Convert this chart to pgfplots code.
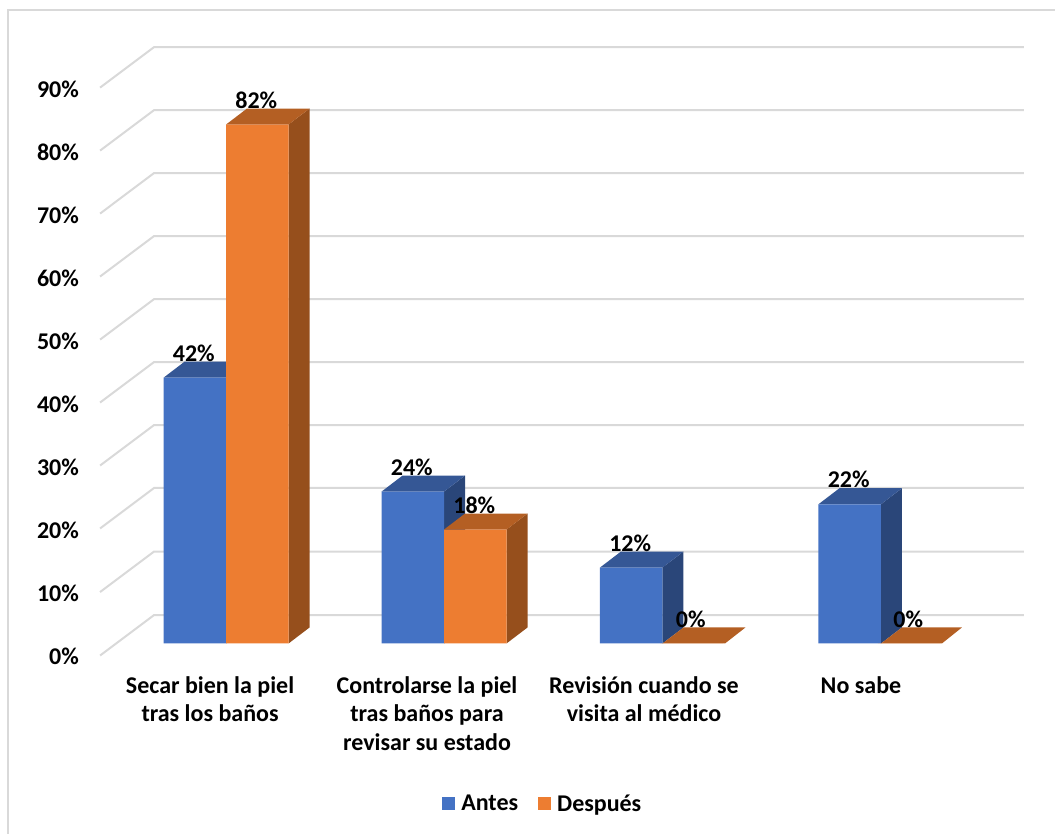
\documentclass[border=0pt]{standalone}
\usepackage{fontspec}
\setmainfont{Carlito}
\usepackage{pgfplots}
\pgfplotsset{compat=1.18}
\definecolor{antes}{HTML}{4472C4}
\definecolor{antesTop}{HTML}{355795}
\definecolor{antesSide}{HTML}{2A4679}
\definecolor{despues}{HTML}{ED7D31}
\definecolor{despuesTop}{HTML}{B45F23}
\definecolor{despuesSide}{HTML}{964F1C}
\definecolor{rejilla}{HTML}{D9D9D9}
% One shaded facet of a 3-D column
\newcommand{\facet}[2]{\addplot[forget plot,fill=#1,draw=none] coordinates {#2} --cycle;}
% One gridline: front edge of the side wall, then along the back wall
\newcommand{\gridline}[2]{\addplot[forget plot,rejilla,line width=2pt] coordinates {(100,#1) (154,#2) (1024,#2)};}
\pgfplotsset{
  valor/.style={
    nodes near coords={\pgfmathprintnumber[assume math mode=true]{\pgfplotspointmeta}\%},
    every node near coord/.append style={anchor=south,yshift=16pt,xshift=-1pt,inner sep=0pt,
      font=\fontsize{24}{28}\selectfont\bfseries,black},
  },
}
\begin{document}
\begin{tikzpicture}
\begin{axis}[
  width=1055pt, height=834pt, scale only axis,
  xmin=0, xmax=1055, ymin=-30.09, ymax=101.66,
  axis line style={draw=none}, major tick length=0pt,
  font=\fontsize{24}{29}\selectfont\bfseries,
  xtick={210,427,644,861},
  xticklabels={Secar bien la piel\\tras los baños,
    Controlarse la piel\\tras baños para\\revisar su estado,
    Revisión cuando se\\visita al médico,
    No sabe},
  x tick label style={align=center,anchor=north,yshift=158pt,inner sep=0pt},
  ytick={-2.1,7.87,17.84,27.8,37.76,47.72,57.69,67.66,77.62,87.6},
  yticklabels={0\%,10\%,20\%,30\%,40\%,50\%,60\%,70\%,80\%,90\%},
  y tick label style={anchor=east,xshift=79pt,inner sep=0pt},
  legend style={at={(0.5145,0.036)},anchor=center,draw=none,fill=none,
    /tikz/every even column/.append style={column sep=18pt},
    font=\fontsize{24}{28}\selectfont\bfseries},
  legend columns=2,
  legend image code/.code={\fill[#1,draw=none] (0pt,-6.5pt) rectangle (13pt,6.5pt); \path (17pt,0pt);},
]
% outer frame
\addplot[forget plot,rejilla,line width=1.5pt] coordinates {(8,-30.09) (8,100.08) (1055,100.08)};
% side wall and back wall gridlines
\gridline{-1.90}{4.50}
\gridline{8.13}{14.53}
\gridline{18.17}{24.57}
\gridline{28.12}{34.52}
\gridline{38.07}{44.47}
\gridline{48.02}{54.42}
\gridline{57.98}{64.38}
\gridline{67.93}{74.33}
\gridline{77.88}{84.28}
\gridline{87.83}{94.23}
% first series: side and top facets, then the columns
\facet{antesSide}{(226,0) (247,2.53) (247,44.53) (226,42)}
\facet{antesTop}{(163.5,42) (226,42) (247,44.53) (184.5,44.53)}
\facet{antesSide}{(444,0) (465,2.53) (465,26.53) (444,24)}
\facet{antesTop}{(381.5,24) (444,24) (465,26.53) (402.5,26.53)}
\facet{antesSide}{(662.5,0) (683.5,2.53) (683.5,14.53) (662.5,12)}
\facet{antesTop}{(600,12) (662.5,12) (683.5,14.53) (621,14.53)}
\facet{antesSide}{(881,0) (902,2.53) (902,24.53) (881,22)}
\facet{antesTop}{(818.5,22) (881,22) (902,24.53) (839.5,24.53)}
\addplot[ybar,valor,bar width=62.5pt,bar shift=0pt,fill=antes,draw=none]
  coordinates {(194.75,42) (412.75,24) (631.25,12) (849.75,22)};
\addlegendentry{Antes}
% second series
\facet{despuesSide}{(288.5,0) (309.5,2.53) (309.5,84.53) (288.5,82)}
\facet{despuesTop}{(226,82) (288.5,82) (309.5,84.53) (247,84.53)}
\facet{despuesSide}{(506.5,0) (527.5,2.53) (527.5,20.53) (506.5,18)}
\facet{despuesTop}{(444,18) (506.5,18) (527.5,20.53) (465,20.53)}
\facet{despuesTop}{(662.5,0) (725,0) (745.5,2.53) (683.5,2.53)}
\facet{despuesTop}{(881,0) (942,0) (962,2.53) (902,2.53)}
\addplot[ybar,valor,bar width=62.5pt,bar shift=0pt,fill=despues,draw=none]
  coordinates {(257.25,82) (475.25,18) (691.75,0) (909.25,0)};
\addlegendentry{Después}
\end{axis}
\end{tikzpicture}
\end{document}
